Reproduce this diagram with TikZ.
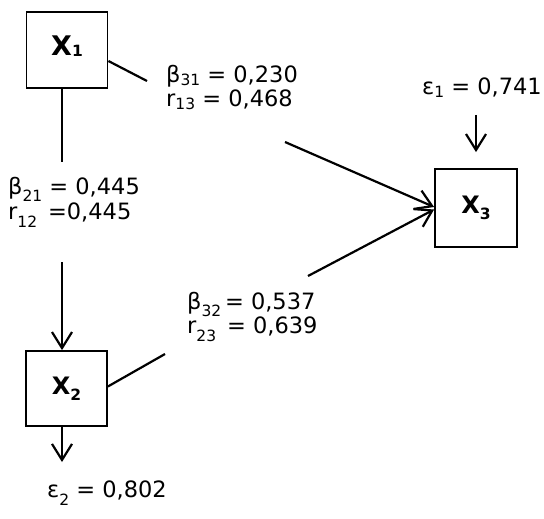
\documentclass[tikz,border=0pt]{standalone}
\usepackage{fontspec}
\setmainfont{DejaVu Sans}
\usetikzlibrary{arrows.meta}
\newcommand{\lsub}[2]{\raisebox{-#1}{\fontsize{15.5}{15.5}\selectfont #2}}
\begin{document}
\begin{tikzpicture}[x=1pt,y=-1pt,
  box/.style={draw,line width=1.8pt,inner sep=0pt,font=\fontsize{24}{24}\selectfont\bfseries},
  lbl/.style={anchor=mid west,inner sep=0pt,font=\fontsize{22.5}{26}\selectfont},
  ln/.style={line width=2.2pt},
  arr/.style={line width=2.2pt,-{Straight Barb[length=16pt,width=20pt,line width=2.2pt]}}]
\useasboundingbox (0,0) rectangle (544,519);
% boxes
\node[box,minimum width=81pt,minimum height=76pt,font=\fontsize{27}{27}\selectfont\bfseries] (X1) at (67,50) {\raisebox{9pt}{X\lsub{1pt}{1}}};
\node[box,minimum width=81pt,minimum height=75pt] (X2) at (66.5,388.5) {X\lsub{6pt}{2}};
\node[box,minimum width=82pt,minimum height=78pt] (X3) at (476,208) {X\lsub{6pt}{3}};
% labels
\node[lbl] (b31) at (166,80) {β\lsub{3pt}{31} = 0,230};
\node[lbl] (r13) at (166,104) {r\lsub{3pt}{13} = 0,468};
\node[lbl] (b21) at (8,192) {β\lsub{7pt}{21} = 0,445};
\node[lbl] (r12) at (8,217) {r\lsub{8pt}{12} \,=0,445};
\node[lbl] (b32) at (187,307) {β\lsub{7pt}{32}\,= 0,537};
\node[lbl] (r23) at (187,331) {r\lsub{8pt}{23} \,= 0,639};
\node[lbl] (e1) at (422,92) {ε\lsub{3pt}{1} = 0,741};
\node[lbl] (e2) at (47,495) {ε\lsub{8pt}{2} = 0,802};
% free ends
\coordinate (a1) at (62,162);
\coordinate (a2) at (62,262);
\coordinate (a3) at (62,462);
\coordinate (a4) at (147,81);
\coordinate (a5) at (165,354);
\coordinate (c31) at (285,142);
\coordinate (c32) at (308,276);
\coordinate (ce1) at (476,115);
% connectors
\draw[ln] ([xshift=-5pt]X1.south) -- (a1);
\draw[arr] (a2) -- ([xshift=-4.5pt]X2.north);
\draw[arr] ([xshift=-4.5pt]X2.south) -- (a3);
\draw[ln] ([yshift=-11pt]X1.east) -- (a4);
\draw[ln] ([yshift=2pt]X2.east) -- (a5);
\draw[arr] (c31) -- ([yshift=1pt]X3.west);
\draw[arr] (c32) -- ([yshift=-1.5pt]X3.west);
\draw[arr,shorten >=16pt] (ce1) -- (X3.north);
\end{tikzpicture}
\end{document}
